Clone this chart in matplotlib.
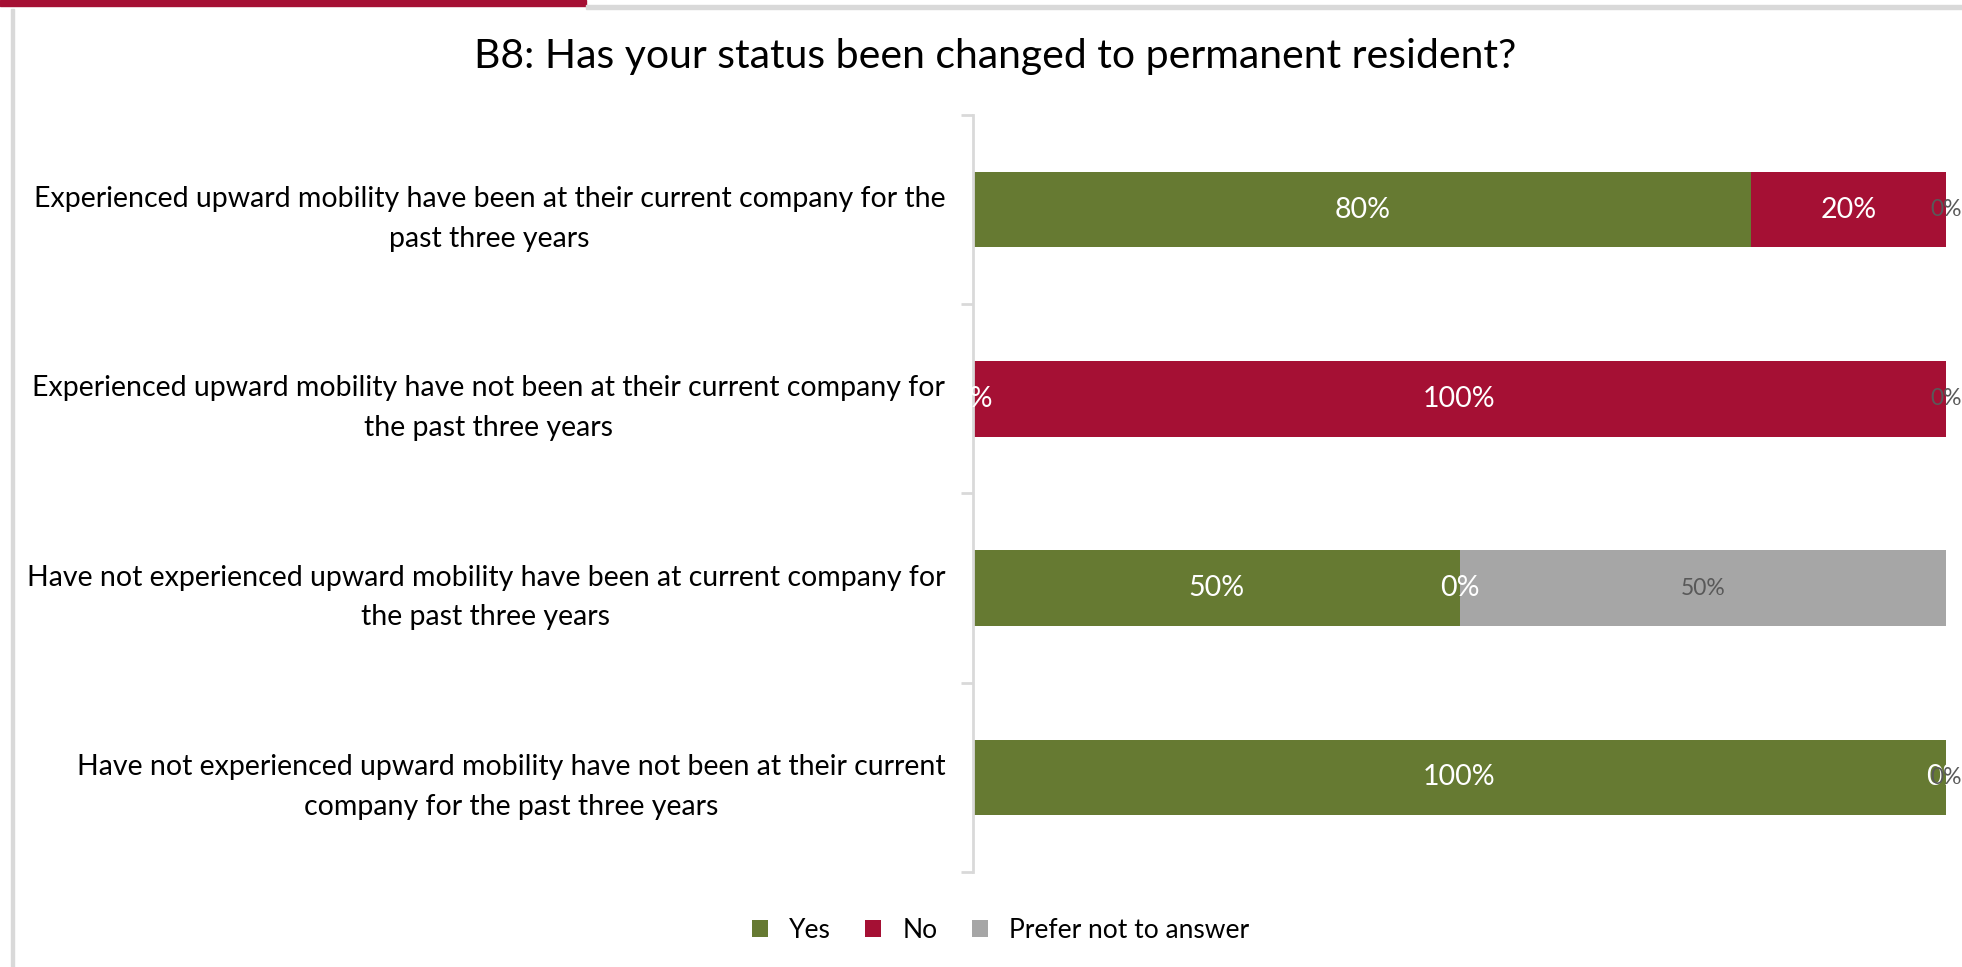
import matplotlib
matplotlib.use('Agg')
import matplotlib.pyplot as plt
from matplotlib.patches import Rectangle

plt.rcParams['font.family'] = ['Lato', 'DejaVu Sans']

# chart data
categories = [
    'Experienced upward mobility have been at their current company for the\npast three years',
    'Experienced upward mobility have not been at their current company for\nthe past three years',
    'Have not experienced upward mobility have been at current company for\nthe past three years',
    'Have not experienced upward mobility have not been at their current\ncompany for the past three years',
]
series_names = ['Yes', 'No', 'Prefer not to answer']
yes = [80, 0, 50, 100]
no = [20, 100, 0, 0]
prefer = [0, 0, 50, 0]

colors = ['#667A32', '#A51034', '#A6A6A6']
label_colors = ['white', 'white', '#595959']
label_sizes = [20.5, 20.5, 16.5]

fig = plt.figure(figsize=(19.62, 9.67), dpi=100)
ax = fig.add_axes([973/1962, 1-872/967, (1946-973)/1962, (872-115)/967])

# frame decorations around the chart
fig.patches.append(Rectangle((0, 1-6/967), 586/1962, 6/967, transform=fig.transFigure,
                             color='#A51034', zorder=0))
fig.patches.append(Rectangle((586/1962, 1-9/967), 1-586/1962, 4/967, transform=fig.transFigure,
                             color='#D9D9D9', zorder=0))
fig.patches.append(Rectangle((11/1962, 0), 3/1962, 1-9/967, transform=fig.transFigure,
                             color='#D9D9D9', zorder=0))

ypos = list(range(len(categories)))
left = [0] * len(categories)
for name, vals, c, lc, fs in zip(series_names, [yes, no, prefer], colors, label_colors, label_sizes):
    bars = ax.barh(ypos, vals, left=left, height=0.4, color=c, label=name)
    ax.bar_label(bars, labels=[f'{v}%' for v in vals], label_type='center',
                 color=lc, fontsize=fs)
    left = [a + b for a, b in zip(left, vals)]

ax.set_xlim(0, 100)
ax.set_ylim(3.5, -0.5)
ax.set_yticks(ypos)
ax.set_yticklabels(categories, fontsize=20.5, linespacing=1.65, multialignment='center')
ax.set_yticks([i - 0.5 for i in range(len(categories) + 1)], minor=True)
ax.tick_params(axis='y', which='major', length=0, pad=20)
ax.tick_params(axis='y', which='minor', length=9, color='#D9D9D9', width=2)
ax.xaxis.set_visible(False)
for s in ['top', 'right', 'bottom']:
    ax.spines[s].set_visible(False)
ax.spines['left'].set_color('#D9D9D9')
ax.spines['left'].set_linewidth(2)

fig.text(0.507, 0.942, 'B8: Has your status been changed to permanent resident?',
         ha='center', va='center', fontsize=29.5)

fig.legend(loc='center', bbox_to_anchor=(0.51, 0.038), ncol=3, frameon=False,
           fontsize=19, handlelength=0.6, handleheight=0.6, columnspacing=1.3,
           handletextpad=0.8)

fig.savefig('out.png', dpi=100)
